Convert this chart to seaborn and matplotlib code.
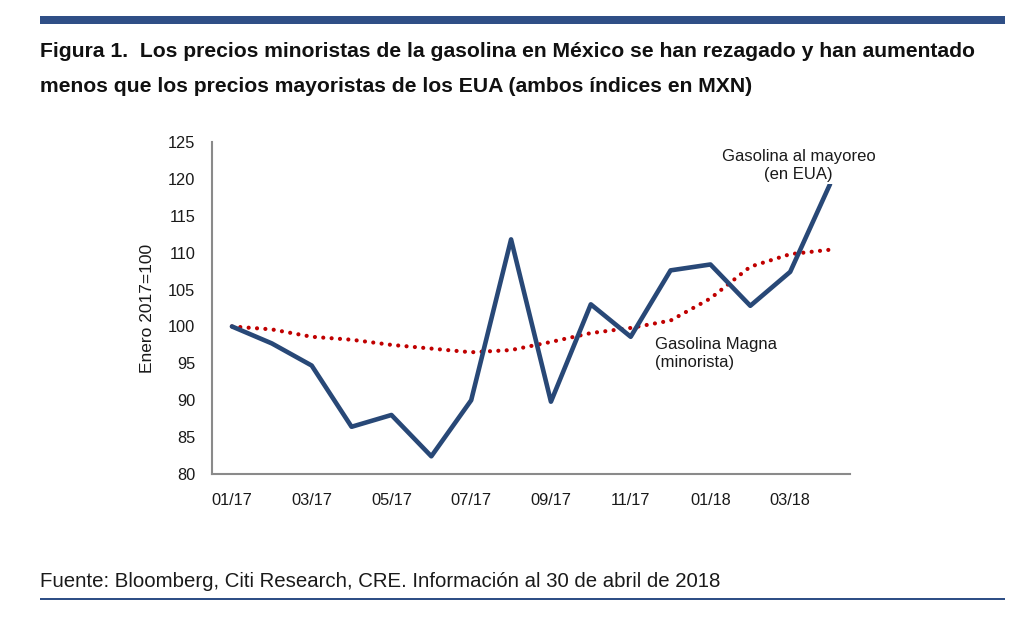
import matplotlib
matplotlib.use("Agg")
import matplotlib.pyplot as plt
import seaborn as sns
import pandas as pd
import numpy as np

months = ["01/17", "02/17", "03/17", "04/17", "05/17", "06/17", "07/17", "08/17",
          "09/17", "10/17", "11/17", "12/17", "01/18", "02/18", "03/18", "04/18"]
mayoreo = [100.0, 97.7, 94.7, 86.4, 88.0, 82.4, 90.0, 111.8,
           89.8, 103.0, 98.6, 107.6, 108.4, 102.8, 107.4, 119.3]
magna = [100.0, 99.6, 98.6, 98.2, 97.5, 97.0, 96.5, 96.8,
         97.9, 99.1, 99.8, 100.8, 103.8, 108.1, 109.8, 110.4]
yticks = [80, 85, 90, 95, 100, 105, 110, 115, 120, 125]
title1 = "Figura 1.  Los precios minoristas de la gasolina en México se han rezagado y han aumentado"
title2 = "menos que los precios mayoristas de los EUA (ambos índices en MXN)"
source = "Fuente: Bloomberg, Citi Research, CRE. Información al 30 de abril de 2018"
label_may = "Gasolina al mayoreo\n(en EUA)"
label_mag = "Gasolina Magna\n(minorista)"
ylabel = "Enero 2017=100"

sns.set_style("white")
plt.rcParams['font.family'] = ['Liberation Sans', 'DejaVu Sans']

BLUE = "#284877"
RED = "#C00000"
GREY = "#8a8a8a"
TXT = "#1a1a1a"

df = pd.DataFrame({"x": np.arange(len(months)), "mayoreo": mayoreo, "magna": magna})

fig = plt.figure(figsize=(10.24, 6.30), dpi=100)
ax = fig.add_axes([212/1024, 1-474/630, (850-212)/1024, (474-142)/630])

sns.lineplot(data=df, x="x", y="mayoreo", ax=ax, color=BLUE, linewidth=3.3, zorder=3)
sns.lineplot(data=df, x="x", y="magna", ax=ax, color=RED, linewidth=3.0, zorder=2,
             linestyle=(0, (0.01, 2.0)), dash_capstyle="round")

ax.set_xlim(-0.5, len(months) - 0.5)
ax.set_ylim(80, 125)
ax.set_yticks(yticks)
ax.set_yticklabels([str(v) for v in yticks], fontsize=11.8, color=TXT)
ax.set_xticks(np.arange(-0.5, len(months), 2))
ax.set_xticklabels([])
ax.set_xticks(np.arange(0, len(months), 2), minor=True)
ax.set_xticklabels(months[::2], minor=True, fontsize=11.8, color=TXT)
ax.tick_params(axis="x", which="minor", length=0, pad=14)
ax.tick_params(axis="x", which="major", length=6, width=1.2, color=GREY, direction="out")
ax.tick_params(axis="y", length=6, width=1.2, color=GREY, direction="out", pad=6)
ax.set_xlabel("")
ax.set_ylabel(ylabel, fontsize=12.5, color=TXT, labelpad=9)
for s in ["top", "right"]:
    ax.spines[s].set_visible(False)
for s in ["left", "bottom"]:
    ax.spines[s].set_color(GREY)
    ax.spines[s].set_linewidth(1.5)

ax.text(14.21, 121.75, label_may, ha="center", va="center", fontsize=12, color=TXT,
        linespacing=1.25, zorder=5,
        bbox=dict(facecolor="white", edgecolor="none", pad=1.0))
ax.text(10.62, 96.3, label_mag, ha="left", va="center", fontsize=12, color=TXT,
        linespacing=1.25, zorder=5)

# decorations
fig.add_artist(plt.Rectangle((40/1024, 1-24/630), (1005-40)/1024, 8/630,
                             transform=fig.transFigure, color="#2F4F86", lw=0))
fig.add_artist(plt.Rectangle((40/1024, 1-600/630), (1005-40)/1024, 2.5/630,
                             transform=fig.transFigure, color="#2F4F86", lw=0))
fig.text(40/1024, 1-57/630, title1, fontsize=15.2, fontweight="bold",
         va="baseline", ha="left", color="#111111")
fig.text(40/1024, 1-92/630, title2, fontsize=15.2, fontweight="bold",
         va="baseline", ha="left", color="#111111")
fig.text(40/1024, 1-587/630, source, fontsize=14.7,
         va="baseline", ha="left", color=TXT)

fig.savefig("out.png", dpi=100, facecolor="white")
